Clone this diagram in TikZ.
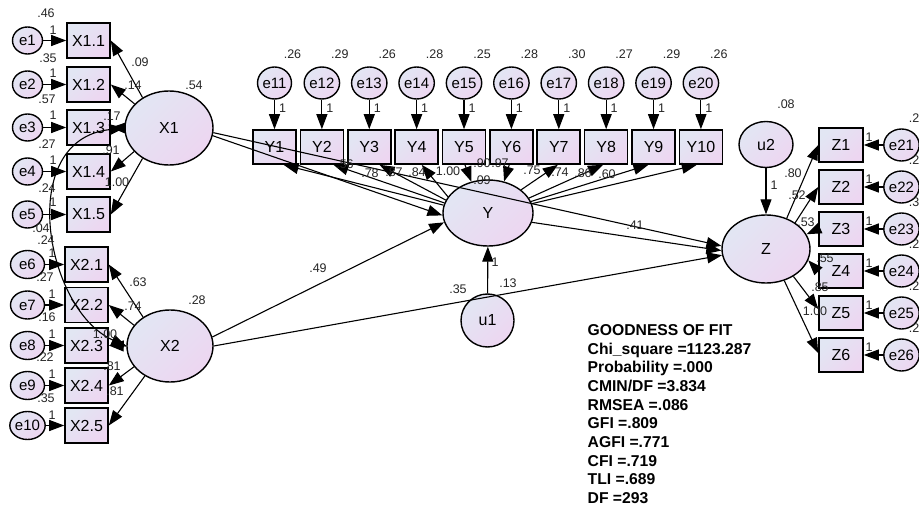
\documentclass[tikz,border=0pt]{standalone}
\usepackage{fontspec}
\setmainfont{Liberation Sans}
\usetikzlibrary{arrows.meta,shapes.geometric}
\definecolor{fillA}{RGB}{226,230,243}
\definecolor{fillB}{RGB}{237,214,241}
\tikzset{
  obs/.style={draw=black, line width=1.6pt, rectangle, minimum width=43pt, minimum height=35pt, inner sep=0pt,
    top color=fillA, bottom color=fillB, shading angle=45, font=\fontsize{16}{18}\selectfont},
  lat/.style={draw=black, line width=1.4pt, ellipse, inner sep=0pt,
    top color=fillA, bottom color=fillB, shading angle=45, font=\fontsize{16}{18}\selectfont},
  err/.style={lat, font=\fontsize{15}{17}\selectfont},
  pth/.style={line width=1.1pt, -{Triangle[length=15pt,width=11pt]}},
  cov/.style={line width=1.1pt, {Triangle[length=15pt,width=11pt]}-{Triangle[length=15pt,width=11pt]}},
  val/.style={font=\fontsize{12.5}{14}\selectfont, text=black!85, inner sep=0pt},
  gof/.style={font=\fontsize{15.7}{18}\selectfont\bfseries, inner sep=0pt, anchor=base west},
}
\begin{document}
\begin{tikzpicture}[x=1pt,y=-1pt]
\fill[white] (0,0) rectangle (919,508);
\useasboundingbox (0,0) rectangle (919,508);

% ---------- left: X1 indicators ----------
\foreach \i/\yy in {1/40.5,2/84.5,3/127.5,4/171.5,5/214.5}{
  \node[obs] (X1\i) at (88.5,\yy) {X1.\i};
  \node[err, minimum width=30pt, minimum height=27pt] (e\i) at (27.5,\yy) {e\i};
}
% ---------- left: X2 indicators ----------
\foreach \i/\k/\yy in {1/6/264.5,2/7/305,3/8/345.5,4/9/385.5,5/10/425.5}{
  \node[obs] (X2\i) at (86.5,\yy) {X2.\i};
  \node[err, minimum width=34pt, minimum height=28pt] (e\k) at (27.5,\yy) {e\k};
}
% ---------- latent variables ----------
\node[lat, minimum width=88pt, minimum height=74pt] (X1) at (169,128) {X1};
\node[lat, minimum width=86pt, minimum height=72pt] (X2) at (170,346) {X2};
\node[lat, minimum width=90pt, minimum height=66pt] (Y) at (488,213) {Y};
\node[lat, minimum width=53pt, minimum height=53pt] (u1) at (487.5,320.5) {u1};
\node[lat, minimum width=88pt, minimum height=68pt] (Z) at (766,249) {Z};
\node[lat, minimum width=54pt, minimum height=46pt] (u2) at (766,144.5) {u2};

% ---------- Y indicators ----------
\foreach \i/\v in {1/.26,2/.29,3/.26,4/.28,5/.25,6/.28,7/.30,8/.27,9/.29,10/.26}{
  \pgfmathsetmacro\xx{274.5+47.38*(\i-1)}
  \pgfmathtruncatemacro\ee{\i+10}
  \node[obs, minimum height=34pt] (Y\i) at (\xx,147) {Y\i};
  \node[err, minimum width=34pt, minimum height=32pt] (e\ee) at (\xx,83) {e\ee};
  \draw[pth] (e\ee) -- (Y\i);
  \node[val] (ve\ee) at (\xx+18,54) {\v};
  \node[val] (one\ee) at (\xx+8,108) {1};
}

% ---------- Z indicators ----------
\foreach \i/\yy/\v in {1/145/.2,2/187/.2,3/229/.3,4/271/.2,5/313/.2,6/355/.2}{
  \pgfmathtruncatemacro\ee{\i+20}
  \node[obs, minimum width=44pt, minimum height=34pt] (Z\i) at (841,\yy) {Z\i};
  \node[err, minimum width=33pt, minimum height=32pt] (e\ee) at (901.5,\yy) {e\ee};
  \draw[pth] (e\ee) -- (Z\i);
  \node[val] (one\ee) at (869,\yy-8) {1};
  \node[val, anchor=east] (ve\ee) at (919.5,\yy-27) {\v};
}

% ---------- left connectors ----------
\foreach \i in {1,...,5}{ \draw[pth] (e\i) -- (X1\i); }
\foreach \i/\k in {1/6,2/7,3/8,4/9,5/10}{ \draw[pth] (e\k) -- (X2\i); }
\draw[pth] (X1.131) -- (X11.east);
\draw[pth] (X1.145) -- (X12.east);
\draw[pth] (X1.west) -- (X13.east);
\draw[pth] (X1.214) -- (X14.east);
\draw[pth] (X1.229) -- (X15.east);
\draw[pth] (X2.133) -- (X21.east);
\draw[pth] (X2.150) -- (X22.east);
\draw[pth] (X2.west) -- (X23.east);
\draw[pth] (X2.210) -- (X24.east);
\draw[pth] (X2.230) -- (X25.east);
\draw[cov] (X1.west) .. controls (15,140) and (45,310) .. (X2.west);

% ---------- Y connectors ----------
\draw[pth] (Y.170) -- (Y1.-63);
\draw[pth] (Y.167) -- (Y2.-57);
\draw[pth] (Y.163) -- (Y3.-60);
\draw[pth] (Y.158) -- (Y4.-74);
\draw[pth] (Y5.-87) -- (Y.118);
\draw[pth] (Y6.-97) -- (Y.63);
\draw[pth] (Y.35) -- (Y7.-93);
\draw[pth] (Y.20) -- (Y8.-100);
\draw[pth] (Y.15) -- (Y9.-106);
\draw[pth] (Y.12) -- (Y10.-103);

% ---------- structural paths ----------
\draw[pth] (X1.-10) -- (Y.183);
\draw[pth] (X1.-6) -- (Z.176);
\draw[pth] (X2.12) -- (Y.192);
\draw[pth] (X2.0) -- (Z.188);
\draw[pth] (Y.-12) -- (Z.182);
\draw[pth] (u1) -- (Y);
\draw[pth] (u2) -- (Z);

% ---------- Z connectors ----------
\draw[pth] (Z.56) -- (Z1.west);
\draw[pth] (Z.42) -- (Z2.west);
\draw[pth] (Z3.west) -- (Z.20);
\draw[pth] (Z4.west) -- (Z.-15);
\draw[pth] (Z.-45) -- (Z5.170);
\draw[pth] (Z.-60) -- (Z6.175);

% ---------- value labels ----------
\foreach \t/\x/\y [count=\k] in {
  .46/46/13, 1/53/30, .35/48/58, 1/53/73, .57/47/99, 1/53/115, .27/47/144, 1/53/160, .24/47/188, 1/53/202,
  .09/140/62, .14/133/85, .17/112/116, .91/111/150, 1.00/117/182, .54/194/85,
  .04/41/228, .24/46/240, 1/52/253, .27/45/277, 1/52/294, .16/47/317, 1/52/334, .22/45/357, 1/52/374, .35/46/398, 1/52/415,
  .63/138/282, .74/133/306, 1.00/105/334, .81/112/366, .81/115/391, .28/197/300,
  .56/345/164, .78/370/173, .87/394/172, .84/417/172, 1.00/448/171, .90/482/163, .97/500/163, .09/482/180,
  .75/532/170, .74/560/172, .86/583/173, .60/607/174,
  .49/318/268, .35/458/289, .13/508/283, 1/495/262, .41/635/225,
  .08/786/104, 1/774/185, .80/793/173, .52/797/195, .53/806/222, .55/825/258, .85/820/287, 1.00/815/311}{
  \node[val] (lab\k) at (\x,\y) {\t};
}

% ---------- goodness of fit ----------
\foreach \t [count=\k] in {GOODNESS OF FIT, Chi\_square =1123.287, Probability =.000, CMIN/DF =3.834,
  RMSEA =.086, GFI =.809, AGFI =.771, CFI =.719, TLI =.689, DF =293}{
  \node[gof] (gof\k) at (587.5,{335.6+18.67*(\k-1)}) {\t};
}
\end{tikzpicture}
\end{document}
